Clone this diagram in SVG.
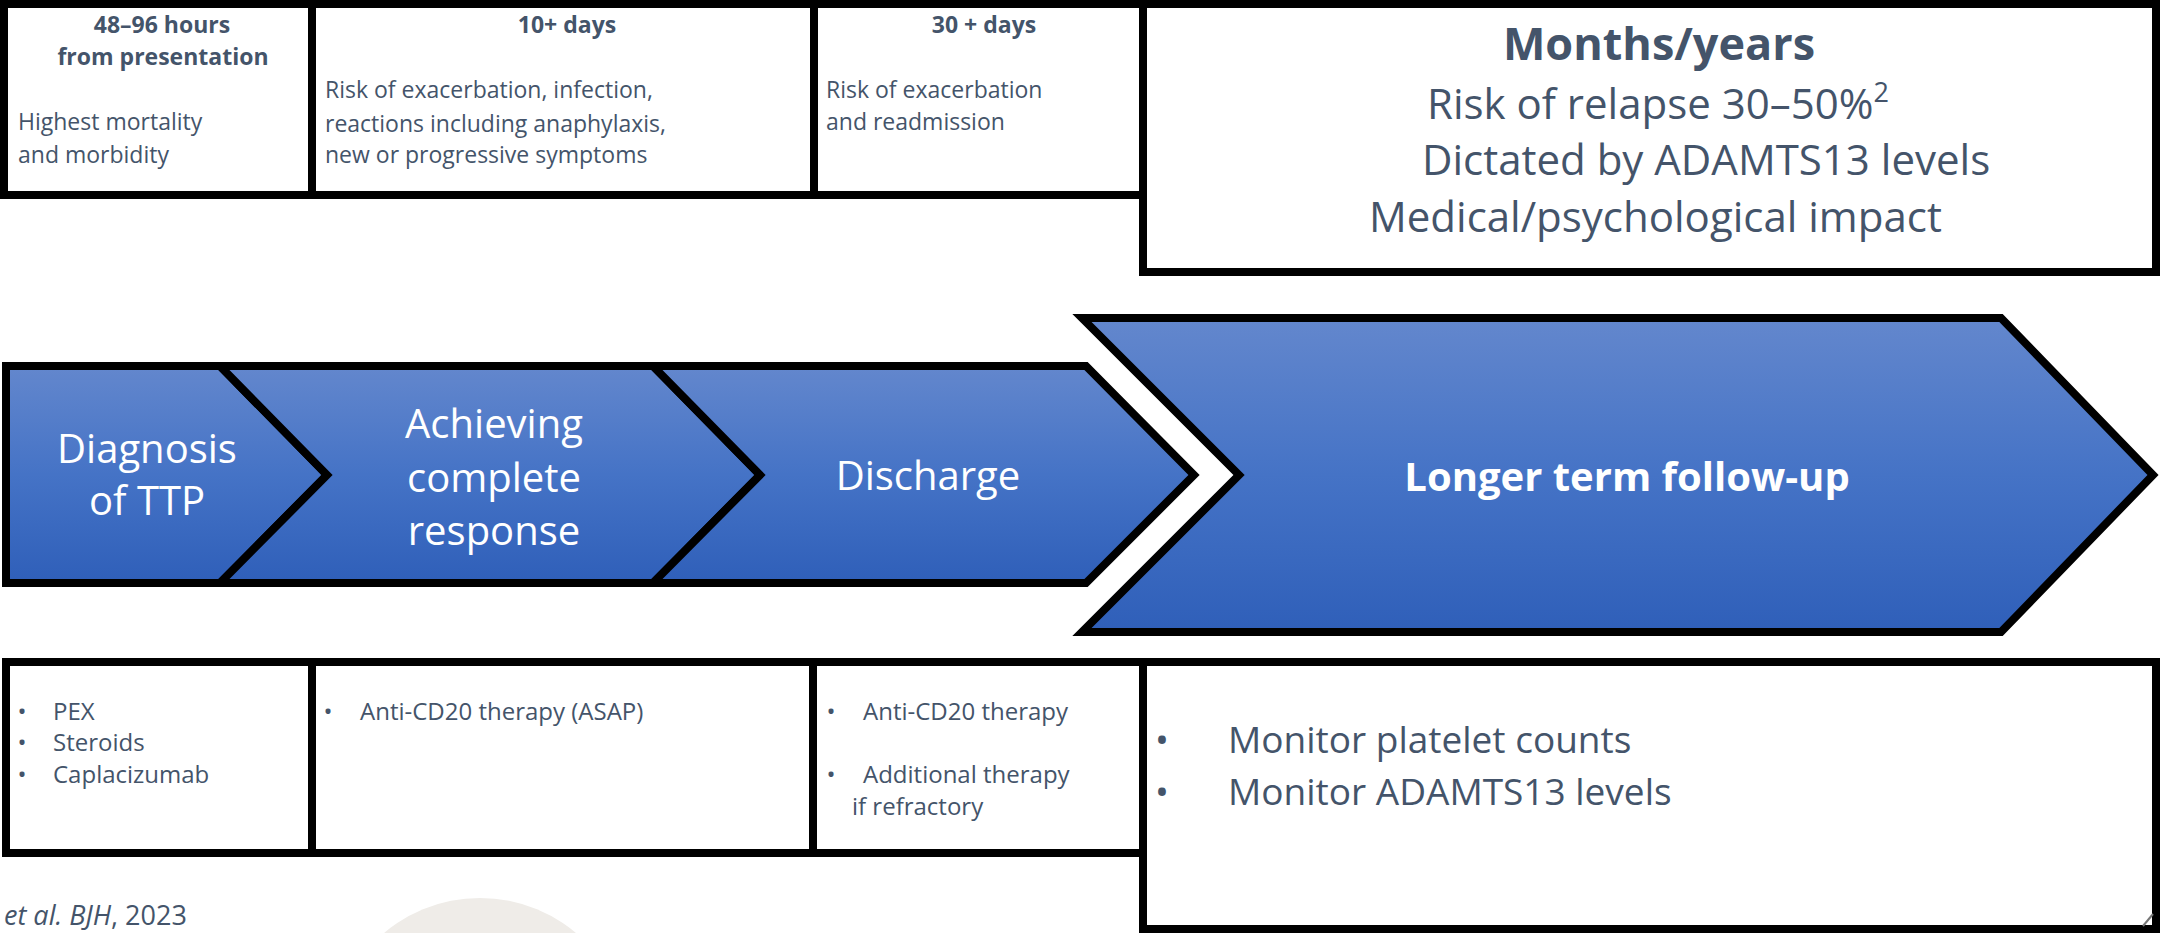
<svg xmlns="http://www.w3.org/2000/svg" width="2160" height="933" viewBox="0 0 2160 933">
<defs>
<linearGradient id="blue" x1="0" y1="0" x2="0" y2="1">
<stop offset="0" stop-color="#6387CD"/>
<stop offset="0.5" stop-color="#4573C6"/>
<stop offset="1" stop-color="#2F5FB9"/>
</linearGradient>
<style>
.box{fill:#FFFFFF;stroke:#000000;stroke-width:8;stroke-linejoin:miter}
.chev{fill:url(#blue);stroke:#000000;stroke-width:8;stroke-linejoin:miter}
.t{font-family:"Open Sans","Liberation Sans",sans-serif;fill:#44546A}
.b{font-weight:bold}
.w{font-family:"Open Sans","Liberation Sans",sans-serif;fill:#FFFFFF;font-size:40px;text-anchor:middle}
.s{font-size:23px}
.m{font-size:24px}
.mid{text-anchor:middle}
</style>
</defs>
<rect width="2160" height="933" fill="#FFFFFF"/>
<circle cx="480" cy="1047" r="149" fill="#EFECE8"/>

<g id="top-48h">
<rect class="box" x="4" y="4" width="308" height="191"/>
<text class="t b s mid" x="162" y="33">48–96 hours</text>
<text class="t b s mid" x="163" y="65">from presentation</text>
<text class="t s" x="18" y="130">Highest mortality</text>
<text class="t s" x="18" y="163">and morbidity</text>
</g>
<g id="top-10d">
<rect class="box" x="312" y="4" width="502" height="191"/>
<text class="t b s mid" x="567" y="33">10+ days</text>
<text class="t s" x="325" y="98">Risk of exacerbation, infection,</text>
<text class="t s" x="325" y="132">reactions including anaphylaxis,</text>
<text class="t s" x="325" y="163">new or progressive symptoms</text>
</g>
<g id="top-30d">
<rect class="box" x="814" y="4" width="329" height="191"/>
<text class="t b s mid" x="984" y="33">30 + days</text>
<text class="t s" x="826" y="98">Risk of exacerbation</text>
<text class="t s" x="826" y="130">and readmission</text>
</g>
<g id="top-months">
<rect class="box" x="1143" y="4" width="1013" height="268"/>
<text class="t b mid" x="1659" y="60" font-size="45">Months/years</text>
<text class="t" x="1427" y="119" font-size="42">Risk of relapse 30–50%<tspan font-size="27" dy="-17">2</tspan></text>
<text class="t" x="1422" y="175" font-size="42">Dictated by ADAMTS13 levels</text>
<text class="t" x="1369" y="232" font-size="42">Medical/psychological impact</text>
</g>

<g id="chev-diagnosis">
<polygon class="chev" points="6,366 220,366 327,475 220,583 6,583"/>
<text class="w" x="147" y="463">Diagnosis</text>
<text class="w" x="147" y="515">of TTP</text>
</g>
<g id="chev-response">
<polygon class="chev" points="220,366 653,366 760,475 653,583 220,583 327,475"/>
<text class="w" x="494" y="438">Achieving</text>
<text class="w" x="494" y="492">complete</text>
<text class="w" x="494" y="545">response</text>
</g>
<g id="chev-discharge">
<polygon class="chev" points="653,366 1086,366 1194,475 1086,583 653,583 760,475"/>
<text class="w" x="928" y="490">Discharge</text>
</g>
<g id="chev-followup">
<polygon class="chev" points="1082,318 2001,318 2153,475 2001,632 1082,632 1239,475"/>
<text class="w" x="1627" y="491" font-weight="bold">Longer term follow-up</text>
</g>

<g id="bot-acute">
<rect class="box" x="6" y="662" width="306" height="191"/>
<text class="t m mid" x="22" y="720">•</text>
<text class="t m mid" x="22" y="751">•</text>
<text class="t m mid" x="22" y="783">•</text>
<text class="t m" x="53" y="720">PEX</text>
<text class="t m" x="53" y="751">Steroids</text>
<text class="t m" x="53" y="783">Caplacizumab</text>
</g>
<g id="bot-cd20">
<rect class="box" x="312" y="662" width="501" height="191"/>
<text class="t m mid" x="328" y="720">•</text>
<text class="t m" x="360" y="720">Anti-CD20 therapy (ASAP)</text>
</g>
<g id="bot-discharge">
<rect class="box" x="813" y="662" width="330" height="191"/>
<text class="t m mid" x="831" y="720">•</text>
<text class="t m" x="863" y="720">Anti-CD20 therapy</text>
<text class="t m mid" x="831" y="783">•</text>
<text class="t m" x="863" y="783">Additional therapy</text>
<text class="t m" x="852" y="815">if refractory</text>
</g>
<g id="bot-monitor">
<rect class="box" x="1143" y="662" width="1013" height="267"/>
<text class="t mid" x="1162" y="753" font-size="37">•</text>
<text class="t" x="1228" y="753" font-size="37">Monitor platelet counts</text>
<text class="t mid" x="1162" y="805" font-size="37">•</text>
<text class="t" x="1228" y="805" font-size="37">Monitor ADAMTS13 levels</text>
<line x1="2143" y1="926" x2="2153" y2="914" stroke="#777777" stroke-width="2"/>
</g>

<g id="connectors"></g>

<text class="t" x="4" y="925" font-size="27"><tspan font-style="italic">et al. BJH</tspan>, 2023</text>
</svg>
